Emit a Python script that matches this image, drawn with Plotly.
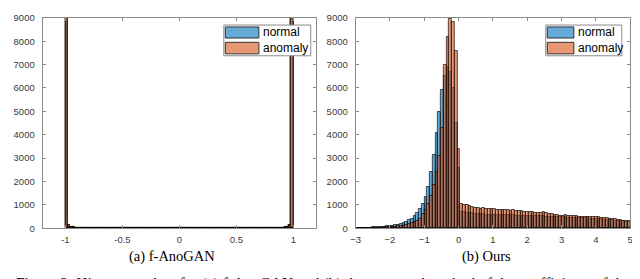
import numpy as np
import plotly.graph_objects as go

W, H = 640, 279

# ---------------- data ----------------
# (a) f-AnoGAN: bins of width 0.02 on [-1, 1]
left_bin_start, left_bin_width = -1.0, 0.02
left_normal = [60000, 140, 70, 45, 35, 30, 27, 25, 23, 22,
               21, 20, 20, 19, 19, 18, 18, 18, 17, 17,
               17, 17, 16, 16, 16, 16, 16, 16, 15, 15,
               15, 15, 15, 15, 15, 15, 15, 15, 15, 15,
               15, 15, 15, 15, 15, 15, 15, 15, 15, 15,
               15, 15, 15, 15, 15, 15, 15, 15, 15, 15,
               15, 15, 15, 15, 15, 15, 15, 15, 15, 15,
               15, 15, 16, 16, 16, 16, 16, 16, 17, 17,
               17, 17, 18, 18, 18, 19, 19, 20, 20, 21,
               22, 23, 25, 27, 30, 35, 45, 70, 140, 60000]
left_anomaly = [52000, 130, 65, 42, 33, 28, 25, 23, 22, 21,
                20, 19, 19, 18, 18, 17, 17, 17, 16, 16,
                16, 16, 15, 15, 15, 15, 15, 15, 14, 14,
                14, 14, 14, 14, 14, 14, 14, 14, 14, 14,
                14, 14, 14, 14, 14, 14, 14, 14, 14, 14,
                14, 14, 14, 14, 14, 14, 14, 14, 14, 14,
                14, 14, 14, 14, 14, 14, 14, 14, 14, 14,
                14, 14, 15, 15, 15, 15, 15, 15, 16, 16,
                16, 16, 17, 17, 17, 18, 18, 19, 19, 20,
                21, 22, 23, 25, 28, 33, 42, 65, 130, 52000]

# (b) Ours: bins of width 0.08 on [-3, 5]
right_bin_start, right_bin_width = -3.0, 0.08
right_normal = [20, 22, 25, 28, 32, 36, 42, 48, 55, 62,
                72, 85, 100, 115, 135, 160, 190, 230, 280, 340,
                420, 520, 640, 820, 1050, 1350, 1750, 2400, 3150, 4100,
                5000, 5900, 6500, 6900, 6700, 6000, 4500, 2600, 720,
                690, 660, 650, 640, 615, 610, 600, 605, 590, 585,
                580, 582, 575, 570, 572, 565, 560, 562, 555, 550,
                548, 545, 540, 542, 535, 530, 525, 520, 518, 512,
                505, 500, 497, 490, 485, 480, 476, 470, 465, 462,
                455, 450, 446, 440, 432, 426, 420, 412, 402, 396,
                386, 376, 366, 356, 346, 336, 322, 312, 302, 292,
                286]
right_anomaly = [10, 12, 14, 16, 18, 21, 24, 28, 32, 36,
                 42, 48, 55, 63, 72, 85, 100, 120, 145, 175,
                 210, 260, 320, 420, 600, 800, 1050, 1400, 1850, 2400,
                 3100, 4300, 7000, 8200, 8950, 8850, 7600, 3400, 1050,
                 1000, 980, 950, 900, 880, 860, 850, 870, 840, 830,
                 820, 810, 800, 790, 790, 780, 770, 760, 790, 760,
                 740, 730, 720, 710, 700, 690, 670, 660, 650, 680,
                 640, 620, 600, 590, 570, 550,
                 540, 560, 530, 525, 515, 510, 505, 500, 495, 490,
                 485, 480, 478, 470, 460, 445, 430, 415, 400, 380,
                 360, 345, 330, 310, 300]

series_names = ["normal", "anomaly"]
left_xticks = [-1, -0.5, 0, 0.5, 1]
right_xticks = [-3, -2, -1, 0, 1, 2, 3, 4, 5]
yticks = [0, 1000, 2000, 3000, 4000, 5000, 6000, 7000, 8000, 9000]
captions = ["(a) f-AnoGAN", "(b) Ours"]
figure_caption = ("Figure 2: Histogram plots for (a) f-AnoGAN and (b) the proposed "
                  "method of the coefficients of the")

# ---------------- styling ----------------
BLUE = "rgba(0,114,189,0.6)"
ORANGE = "rgba(217,83,25,0.6)"
BLUE_SW = "rgb(102,170,215)"
ORANGE_SW = "rgb(232,152,117)"
AXIS = "#8a8a8a"
TICKFONT = dict(family="Liberation Sans, Arial, sans-serif", size=9.5, color="#3a3a3a")


def centers(start, width, n):
    return start + width * (np.arange(n) + 0.5)


def px(x):
    return x / W


def py(y):
    return 1 - y / H


fig = go.Figure()

lx = centers(left_bin_start, left_bin_width, len(left_normal))
rx = centers(right_bin_start, right_bin_width, len(right_normal))

for vals, col, name in [(left_normal, BLUE, series_names[0]), (left_anomaly, ORANGE, series_names[1])]:
    fig.add_trace(go.Bar(x=lx, y=vals, width=left_bin_width, name=name, showlegend=False,
                         marker=dict(color=col, line=dict(color="black", width=0.8)),
                         xaxis="x", yaxis="y"))
for vals, col, name in [(right_normal, BLUE, series_names[0]), (right_anomaly, ORANGE, series_names[1])]:
    fig.add_trace(go.Bar(x=rx, y=vals, width=right_bin_width, name=name, showlegend=False,
                         marker=dict(color=col, line=dict(color="black", width=0.65)),
                         xaxis="x2", yaxis="y2"))

ydom = [py(223), py(4)]
common_axis = dict(showline=True, linecolor=AXIS, linewidth=1, mirror="ticks",
                   ticks="inside", ticklen=3, tickcolor=AXIS, showgrid=False,
                   zeroline=False, tickfont=TICKFONT, ticklabeloverflow="allow")

fig.update_layout(
    width=W, height=H,
    margin=dict(l=0, r=0, t=0, b=0),
    paper_bgcolor="white", plot_bgcolor="white",
    barmode="overlay", bargap=0,
    xaxis=dict(domain=[px(30), px(307)], range=[-1.2, 1.2], tickvals=left_xticks,
               ticktext=[f"{t:g}" for t in left_xticks], anchor="y",
               ticklabelstandoff=2, **common_axis),
    yaxis=dict(domain=ydom, range=[0, 9000], tickvals=yticks, anchor="x",
               ticklabelstandoff=5, **common_axis),
    xaxis2=dict(domain=[px(347), px(625)], range=[-3, 5], tickvals=right_xticks,
                anchor="y2", ticklabelstandoff=2, **common_axis),
    yaxis2=dict(domain=ydom, range=[0, 9000], tickvals=yticks, anchor="x2",
                ticklabelstandoff=5, **common_axis),
)

# ---------------- legends (drawn) ----------------
shapes = []
annotations = []
legend_specs = [
    # box x0, x1, swatch x0, x1, text x
    (213.5, 301.5, 215, 249, 251.5),
    (539.5, 616.5, 541, 568, 570),
]
for bx0, bx1, sx0, sx1, tx in legend_specs:
    shapes.append(dict(type="rect", xref="paper", yref="paper",
                       x0=px(bx0), x1=px(bx1), y0=py(43.5), y1=py(11.5),
                       line=dict(color="#8a8a8a", width=1), fillcolor="white", layer="above"))
    for (sy0, sy1), col, name in [((13.5, 25), BLUE_SW, series_names[0]),
                                  ((29.5, 41.5), ORANGE_SW, series_names[1])]:
        shapes.append(dict(type="rect", xref="paper", yref="paper",
                           x0=px(sx0), x1=px(sx1), y0=py(sy1), y1=py(sy0),
                           line=dict(color="#333333", width=1), fillcolor=col, layer="above"))
        annotations.append(dict(xref="paper", yref="paper", x=px(tx), y=py((sy0 + sy1) / 2),
                                xanchor="left", yanchor="middle", showarrow=False,
                                text=name, font=dict(family="Liberation Sans, Arial, sans-serif",
                                                     size=12, color="black")))

serif = "Liberation Serif, Times New Roman, serif"
annotations.append(dict(xref="paper", yref="paper", x=px(161), y=py(252), xanchor="center",
                        yanchor="middle", showarrow=False, text=captions[0],
                        font=dict(family=serif, size=14.5, color="black")))
annotations.append(dict(xref="paper", yref="paper", x=px(479), y=py(252), xanchor="center",
                        yanchor="middle", showarrow=False, text=captions[1],
                        font=dict(family=serif, size=14.5, color="black")))
annotations.append(dict(xref="paper", yref="paper", x=px(1), y=py(269), xanchor="left",
                        yanchor="top", showarrow=False, text=figure_caption,
                        font=dict(family=serif, size=15.5, color="black")))

fig.update_layout(shapes=shapes, annotations=annotations)

fig.write_html("out.html")
